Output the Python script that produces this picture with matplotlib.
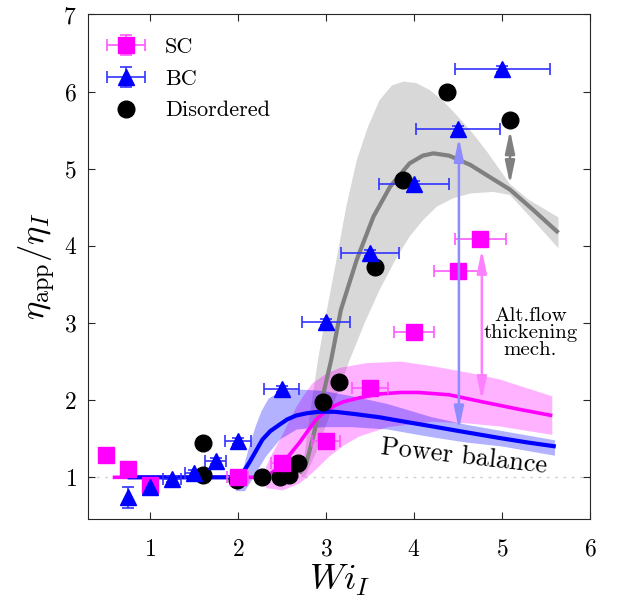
import matplotlib
matplotlib.use('Agg')
import matplotlib.pyplot as plt
from matplotlib.container import ErrorbarContainer
from matplotlib.legend_handler import HandlerErrorbar

# Данные: SC (квадраты)
sc_wi = [0.5, 0.75, 1.0, 2.0, 2.5, 3.0, 3.5, 4.0, 4.5, 4.75]
sc_eta = [1.29, 1.11, 0.90, 1.00, 1.19, 1.47, 2.16, 2.88, 3.68, 4.09]
sc_wi_err = [0.0, 0.0, 0.06, 0.12, 0.12, 0.16, 0.20, 0.23, 0.27, 0.29]
sc_eta_err = [0.0, 0.0, 0.03, 0.03, 0.03, 0.03, 0.03, 0.03, 0.03, 0.03]

# Данные: BC (треугольники)
bc_wi = [0.75, 1.0, 1.25, 1.5, 1.75, 2.0, 2.5, 3.0, 3.5, 4.0, 4.5, 5.0]
bc_eta = [0.74, 0.87, 0.98, 1.06, 1.21, 1.47, 2.14, 3.01, 3.91, 4.80, 5.51, 6.29]
bc_wi_err = [0.0, 0.05, 0.10, 0.10, 0.12, 0.15, 0.20, 0.27, 0.33, 0.40, 0.475, 0.54]
bc_eta_err = [0.14, 0.07, 0.04, 0.04, 0.04, 0.04, 0.04, 0.04, 0.04, 0.04, 0.04, 0.04]

# Данные: неупорядоченные (круги)
dis_wi = [1.6, 1.6, 1.99, 2.27, 2.48, 2.58, 2.68, 2.97, 3.15, 3.56, 3.88, 4.38, 5.09]
dis_eta = [1.44, 1.03, 0.97, 1.00, 1.00, 1.03, 1.19, 1.97, 2.23, 3.73, 4.86, 5.99, 5.63]

# Модель баланса мощности: SC
sc_fit_wi = [0.58, 1.0, 1.5, 2.0, 2.2, 2.35, 2.48, 2.6, 2.7, 2.8, 2.89, 3.0, 3.1, 3.2, 3.38,
             3.6, 3.85, 4.05, 4.4, 4.77, 5.2, 5.57]
sc_fit_eta = [1.0, 1.0, 1.0, 1.0, 1.0, 1.03, 1.14, 1.31, 1.45, 1.61, 1.75, 1.86, 1.93, 1.98, 2.03,
              2.08, 2.10, 2.10, 2.07, 1.98, 1.88, 1.80]
sc_band_up_wi = [2.29, 2.38, 2.48, 2.58, 2.67, 2.76, 2.85, 3.0, 3.16, 3.46, 3.85, 4.21, 4.6, 4.97, 5.57]
sc_band_up_eta = [1.06, 1.28, 1.49, 1.72, 1.92, 2.08, 2.22, 2.34, 2.42, 2.48, 2.50, 2.44, 2.36, 2.27, 2.05]
sc_band_lo_wi = [2.29, 2.32, 2.51, 2.7, 2.85, 3.04, 3.2, 3.38, 3.7, 4.2, 4.6, 4.97, 5.57]
sc_band_lo_eta = [1.00, 0.86, 0.83, 0.92, 1.06, 1.27, 1.41, 1.53, 1.65, 1.72, 1.70, 1.66, 1.55]

# Модель баланса мощности: BC
bc_fit_wi = [0.75, 1.0, 1.5, 1.95, 2.02, 2.08, 2.13, 2.2, 2.28, 2.37, 2.47, 2.56, 2.66, 2.78, 2.92,
             3.1, 3.33, 3.6, 3.9, 4.21, 4.51, 4.97, 5.3, 5.61]
bc_fit_eta = [1.0, 1.0, 1.0, 1.0, 1.03, 1.10, 1.19, 1.33, 1.49, 1.60, 1.68, 1.75, 1.80, 1.83, 1.85,
              1.85, 1.82, 1.78, 1.72, 1.66, 1.60, 1.51, 1.45, 1.40]
bc_band_up_wi = [1.98, 2.06, 2.13, 2.2, 2.27, 2.35, 2.48, 2.67, 2.97, 3.3, 3.7, 4.2, 4.6, 5.0, 5.6]
bc_band_up_eta = [0.84, 1.10, 1.40, 1.65, 1.86, 2.02, 2.11, 2.14, 2.12, 2.05, 1.95, 1.78, 1.68, 1.60, 1.48]
bc_band_lo_wi = [1.98, 2.08, 2.17, 2.32, 2.48, 2.67, 2.97, 3.3, 3.7, 4.2, 4.6, 5.0, 5.6]
bc_band_lo_eta = [0.82, 0.82, 0.98, 1.27, 1.49, 1.62, 1.65, 1.65, 1.62, 1.52, 1.45, 1.40, 1.28]

# Модель баланса мощности: неупорядоченные
dis_fit_wi = [2.7, 2.78, 2.86, 2.95, 3.06, 3.17, 3.35, 3.54, 3.73, 3.95, 4.1, 4.22, 4.4, 4.64,
              4.85, 5.09, 5.35, 5.64]
dis_fit_eta = [1.05, 1.19, 1.55, 1.98, 2.52, 3.17, 3.82, 4.38, 4.77, 5.07, 5.17, 5.20, 5.17, 5.05,
               4.90, 4.73, 4.47, 4.17]
dis_band_up_wi = [2.72, 2.76, 2.83, 2.91, 3.0, 3.12, 3.23, 3.35, 3.48, 3.61, 3.75, 3.88, 4.03, 4.18,
                  4.33, 4.48, 4.66, 4.83, 5.09, 5.3, 5.64]
dis_band_up_eta = [1.0, 1.32, 1.9, 2.52, 3.1, 3.82, 4.5, 5.11, 5.55, 5.89, 6.08, 6.13, 6.11, 6.02,
                   5.88, 5.70, 5.47, 5.22, 4.80, 4.60, 4.37]
dis_band_lo_wi = [2.76, 2.89, 3.0, 3.13, 3.27, 3.44, 3.61, 3.78, 3.95, 4.1, 4.26, 4.45, 4.64, 4.9,
                  5.09, 5.3, 5.64]
dis_band_lo_eta = [1.0, 1.32, 1.67, 2.08, 2.52, 3.0, 3.43, 3.8, 4.12, 4.33, 4.51, 4.62, 4.68, 4.70,
                   4.66, 4.40, 3.97]

# Стрелки: положение по x, начало и конец по y
arrow_wi = [5.09, 4.51, 4.77]
arrow_top = [5.50, 5.40, 3.95]
arrow_bottom = [4.80, 1.62, 2.00]

MAGENTA = (1.0, 0.0, 1.0)
BLUE = (0.0, 0.0, 1.0)
GRAY = (0.5, 0.5, 0.5)


# Полоса неопределенности как многоугольник из верхней и нижней границ
def fill_band(ax, up_x, up_y, lo_x, lo_y, color, alpha):
    xs = list(up_x) + list(lo_x)[::-1]
    ys = list(up_y) + list(lo_y)[::-1]
    ax.fill(xs, ys, color=color, alpha=alpha, lw=0, zorder=1)


def draw_arrow(ax, x, y1, y2, color):
    ax.annotate('', xy=(x, y2), xytext=(x, y1),
                arrowprops=dict(arrowstyle='<|-|>,head_length=0.8,head_width=0.17',
                                color=color, lw=1.8, shrinkA=0, shrinkB=0),
                zorder=4)


def main():
    plt.rcParams['font.family'] = ['cmr10', 'DejaVu Serif']
    plt.rcParams['mathtext.fontset'] = 'cm'
    plt.rcParams['axes.formatter.use_mathtext'] = True
    plt.rcParams['font.size'] = 17

    fig = plt.figure(figsize=(6.23, 6.06), dpi=100)
    ax = fig.add_axes([0.1413, 0.1436, 0.806, 0.8325])

    # Уровень вязкости 1
    ax.axhline(1.0, color=(0.82, 0.82, 0.82), lw=1, ls=(0, (2, 4)), zorder=0)

    # Полосы
    fill_band(ax, dis_band_up_wi, dis_band_up_eta, dis_band_lo_wi, dis_band_lo_eta, GRAY, 0.3)
    fill_band(ax, sc_band_up_wi, sc_band_up_eta, sc_band_lo_wi, sc_band_lo_eta, MAGENTA, 0.3)
    fill_band(ax, bc_band_up_wi, bc_band_up_eta, bc_band_lo_wi, bc_band_lo_eta, BLUE, 0.3)

    # Кривые модели
    ax.plot(dis_fit_wi, dis_fit_eta, color=GRAY, lw=3, zorder=2, solid_capstyle='butt')
    ax.plot(sc_fit_wi, sc_fit_eta, color=MAGENTA, lw=2.6, zorder=2, solid_capstyle='butt')
    ax.plot(bc_fit_wi, bc_fit_eta, color=BLUE, lw=3, zorder=2, solid_capstyle='butt')

    # Стрелки между данными и моделью
    arrow_colors = [GRAY, (0.55, 0.55, 1.0), (1.0, 0.5, 1.0)]
    for x, y1, y2, c in zip(arrow_wi, arrow_top, arrow_bottom, arrow_colors):
        draw_arrow(ax, x, y1, y2, c)

    # Экспериментальные точки
    sc = ax.errorbar(sc_wi, sc_eta, xerr=sc_wi_err, yerr=sc_eta_err, fmt='s', color=MAGENTA,
                     ms=11.5, ecolor=(1.0, 0.35, 1.0), elinewidth=1.2, capsize=4, capthick=1.2,
                     zorder=3, label='SC')
    bc = ax.errorbar(bc_wi, bc_eta, xerr=bc_wi_err, yerr=bc_eta_err, fmt='^', color=BLUE,
                     ms=12, ecolor=(0.2, 0.2, 1.0), elinewidth=1.2, capsize=4, capthick=1.2,
                     zorder=3, label='BC')
    dis, = ax.plot(dis_wi, dis_eta, 'o', color='black', ms=12, zorder=3, label='Disordered')

    # Подписи
    ax.text(5.32, 2.87, 'Alt.flow\nthickening\nmech.', ha='center', va='center',
            fontsize=15, linespacing=0.95)
    ax.text(4.57, 1.27, 'Power balance', ha='center', va='center', fontsize=19,
            rotation=-6.5, rotation_mode='anchor')

    # Легенда с усами ошибок в обе стороны
    ax.legend(handles=[sc, bc, dis], loc='upper left', bbox_to_anchor=(0.036, 0.955),
              frameon=False, fontsize=16, handlelength=1.8, handletextpad=0.85,
              borderaxespad=0, borderpad=0, labelspacing=0.55,
              handler_map={ErrorbarContainer: HandlerErrorbar(xerr_size=0.85, yerr_size=0.45)})

    ax.set_xlim(0.3, 6)
    ax.set_ylim(0.46, 7)
    ax.set_xticks([1, 2, 3, 4, 5, 6])
    ax.set_yticks([1, 2, 3, 4, 5, 6, 7])
    ax.tick_params(direction='in', length=5, width=0.8, color=(0.15, 0.15, 0.15),
                   top=True, right=True, labelsize=17, pad=8)
    ax.tick_params(axis='x', pad=14)
    for s in ax.spines.values():
        s.set_color((0.15, 0.15, 0.15))
        s.set_linewidth(0.8)

    ax.set_xlabel(r'$Wi_I$', fontsize=26, labelpad=2)
    ax.set_ylabel(r'$\eta_{\rm app}/\eta_I$', fontsize=25, labelpad=4)

    fig.savefig('out.png', dpi=100)


if __name__ == '__main__':
    main()
